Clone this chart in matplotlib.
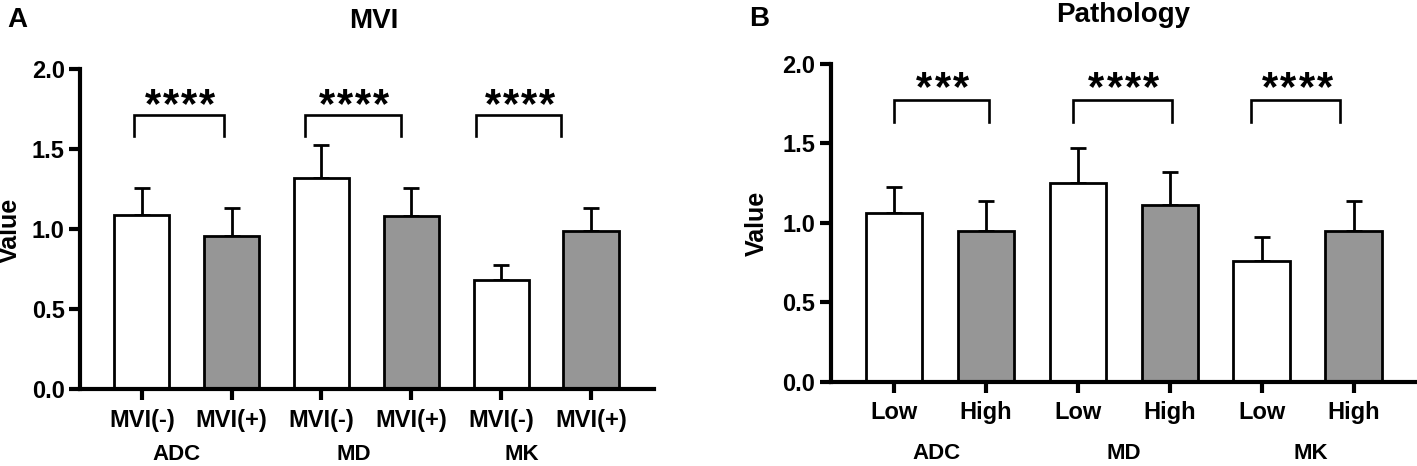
import numpy as np
import matplotlib
matplotlib.use("Agg")
import matplotlib.pyplot as plt
from matplotlib.ticker import FormatStrFormatter

# -------------------- DATA --------------------
GROUPS = ["ADC", "MD", "MK"]

MVI_TICKS = ["MVI(-)", "MVI(+)", "MVI(-)", "MVI(+)", "MVI(-)", "MVI(+)"]
MVI_MEAN = [1.09, 0.955, 1.318, 1.084, 0.685, 0.986]
MVI_SD = [0.167, 0.175, 0.208, 0.174, 0.094, 0.148]
MVI_SIG = ["****", "****", "****"]

PATH_TICKS = ["Low", "High", "Low", "High", "Low", "High"]
PATH_MEAN = [1.06, 0.951, 1.253, 1.113, 0.760, 0.949]
PATH_SD = [0.168, 0.187, 0.217, 0.205, 0.153, 0.187]
PATH_SIG = ["***", "****", "****"]

# -------------------- STYLE --------------------
plt.rcParams["font.family"] = ["Liberation Sans", "DejaVu Sans"]
plt.rcParams["font.weight"] = "bold"

FILL = ["white", "#969696"] * 3
BAR_W = 0.615
LW_AX = 3.0
LW_BAR = 2.0


def draw_panel(ax, means, sds, ticks, sig, xlim, br_spans, br_y, star_x, star_y, group_x, group_y):
    x = np.arange(len(means))
    ax.errorbar(x, means, yerr=[np.zeros(len(sds)), sds], fmt="none", ecolor="black",
                elinewidth=LW_BAR, capsize=5.5, capthick=LW_BAR, zorder=1)
    ax.bar(x, means, width=BAR_W, color=FILL, edgecolor="black", linewidth=LW_BAR, zorder=2)

    ax.set_xlim(*xlim)
    ax.set_ylim(0, 2.0)
    ax.set_yticks([0, 0.5, 1.0, 1.5, 2.0])
    ax.yaxis.set_major_formatter(FormatStrFormatter("%.1f"))
    ax.set_xticks(x)
    ax.set_xticklabels(ticks)

    for s in ["top", "right"]:
        ax.spines[s].set_visible(False)
    for s in ["left", "bottom"]:
        ax.spines[s].set_linewidth(LW_AX)
    ax.tick_params(axis="both", width=LW_AX, length=8, direction="out", labelsize=17)
    ax.tick_params(axis="x", pad=6)
    ax.tick_params(axis="y", pad=3)

    # significance brackets + stars
    yb, yt = br_y
    for (x0, x1), sx, lab in zip(br_spans, star_x, sig):
        ax.plot([x0, x0, x1, x1], [yb, yt, yt, yb], color="black", lw=1.9,
                solid_joinstyle="miter", clip_on=False)
        n = len(lab)
        for k in range(n):
            ax.text(sx + (k - (n - 1) / 2) * 0.2, star_y, "*", ha="center", va="baseline",
                    fontsize=30, fontweight="bold")

    # group labels under tick labels
    for gx, g in zip(group_x, GROUPS):
        ax.text(gx, group_y, g, ha="center", va="center", fontsize=16,
                fontweight="bold", clip_on=False)


fig = plt.figure(figsize=(14.17, 4.66), dpi=100)
axA = fig.add_axes([0.0565, 0.1646, 0.405, 0.6873])
axB = fig.add_axes([0.5862, 0.1809, 0.4138, 0.6818])

draw_panel(axA, MVI_MEAN, MVI_SD, MVI_TICKS, MVI_SIG, (-0.687, 5.70),
           [(-0.09, 0.91), (1.82, 2.88), (3.72, 4.67)], (1.58, 1.713),
           [0.43, 2.36, 4.21], 1.70, [0.39, 2.36, 4.23], -0.41)
draw_panel(axB, PATH_MEAN, PATH_SD, PATH_TICKS, PATH_SIG, (-0.69, 5.69),
           [(0.0, 1.03), (1.95, 3.02), (3.885, 4.85)], (1.637, 1.774),
           [0.53, 2.5, 4.39], 1.77, [0.46, 2.5, 4.53], -0.455)

# titles, panel letters, y labels
H = 466.0
fig.text(374 / 1417, 1 - 28 / H, "MVI", ha="center", va="baseline", fontsize=20, fontweight="bold")
fig.text(1123 / 1417, 1 - 22 / H, "Pathology", ha="center", va="baseline", fontsize=20, fontweight="bold")
fig.text(7 / 1417, 1 - 27 / H, "A", ha="left", va="baseline", fontsize=20, fontweight="bold")
fig.text(749 / 1417, 1 - 26 / H, "B", ha="left", va="baseline", fontsize=20, fontweight="bold")
fig.text(10 / 1417, 1 - 230 / H, "Value", rotation=90, ha="center", va="center", fontsize=18, fontweight="bold")
fig.text(757 / 1417, 1 - 223 / H, "Value", rotation=90, ha="center", va="center", fontsize=18, fontweight="bold")

fig.savefig("out.png", dpi=100)
plt.close(fig)
